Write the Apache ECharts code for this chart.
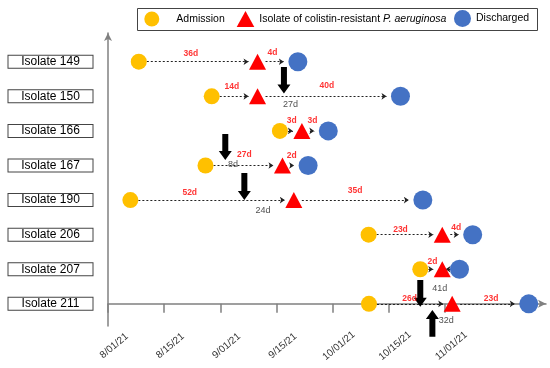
<!DOCTYPE html>
<html>
<head>
<meta charset="utf-8">
<script src="https://cdn.jsdelivr.net/npm/echarts@6/dist/echarts.min.js"></script>
<style>html,body{margin:0;padding:0;background:#fff}#chart{width:550px;height:368px}</style>
</head>
<body>
<div id="chart"></div>
<script>
// Rows, top to bottom
const isolates = ['Isolate 149', 'Isolate 150', 'Isolate 166', 'Isolate 167', 'Isolate 190', 'Isolate 206', 'Isolate 207', 'Isolate 211'];
// Tick labels (drawn evenly spaced along the schematic time axis, 11/01/21 = day 92)
const dateTicks = ['8/01/21', '8/15/21', '9/01/21', '9/15/21', '10/01/21', '10/15/21', '11/01/21'];
const lastTickDay = 92;
// Event positions (days after 8/01/21 on the schematic axis), per isolate
const admission = [8.4, 28.3, 46.9, 26.6, 6.1, 71.1, 85.2, 71.2];
const isolation = [40.8, 40.8, 52.9, 47.6, 50.7, 91.2, 91.2, 93.9];
const discharge = [51.8, 79.8, 60.1, 54.6, 85.9, 99.5, 95.9, 114.8];
// Duration labels (red): [x, y, text]
const durationLabels = [
  [22.6, 7.22, '36d'], [44.9, 7.25, '4d'],
  [33.8, 6.27, '14d'], [59.7, 6.32, '40d'],
  [50.1, 5.31, '3d'], [55.8, 5.31, '3d'],
  [37.2, 4.30, '27d'], [50.1, 4.27, '2d'],
  [22.3, 3.21, '52d'], [67.4, 3.27, '35d'],
  [79.8, 2.15, '23d'], [95.0, 2.21, '4d'],
  [88.5, 1.22, '2d'],
  [82.3, 0.16, '26d'], [104.5, 0.16, '23d']
];
// Black arrows: [x, tail y, tip y]
const bigArrows = [
  [48.0, 6.85, 6.08],
  [32.0, 4.91, 4.16],
  [37.2, 3.78, 3.00],
  [85.2, 0.69, -0.08],
  [88.5, -0.95, -0.18]
];
// Black arrow labels: [x, y, text]
const arrowLabels = [
  [49.8, 5.77, '27d'], [34.1, 4.04, '8d'], [42.3, 2.71, '24d'], [90.5, 0.45, '41d'], [92.3, -0.47, '32d']
];

const nRows = isolates.length;
const rowY = i => nRows - 1 - i;
const tickPos = dateTicks.map((_, i) => i * lastTickDay / (dateTicks.length - 1));

const pxPerDay = 438 / 119.5;
const gapStart = 8 / pxPerDay, gapTri = 9 / pxPerDay, gapBlue = 14 / pxPerDay;
const segs = [];
isolates.forEach((_, i) => {
  const y = rowY(i);
  segs.push({coords: [[admission[i] + gapStart, y], [isolation[i] - gapTri, y]]});
  segs.push({coords: [[isolation[i] + gapStart, y], [discharge[i] - gapBlue, y]]});
});

const FONT = 'Liberation Sans, Arial, sans-serif';
const chart = echarts.init(document.getElementById('chart'), null, {renderer: 'canvas'});
const SER2 = 'Isolate of colistin-resistant P. aeruginosa';

chart.setOption({
  animation: false,
  textStyle: {fontFamily: FONT},
  graphic: [{
    type: 'rect', left: 137, top: 8, z: 0,
    shape: {width: 400, height: 22},
    style: {fill: '#fff', stroke: '#444', lineWidth: 1}
  }],
  legend: [
    {data: ['Admission'], left: 144.3, top: 11.5, padding: 0, itemWidth: 15, itemHeight: 15,
      textStyle: {fontSize: 10.5, color: '#000', fontFamily: FONT, padding: [0, 0, 0, 12]}},
    {data: [SER2], left: 236.7, top: 11, padding: 0, itemWidth: 17.6, itemHeight: 16,
      formatter: () => 'Isolate of colistin-resistant {i|P. aeruginosa}',
      textStyle: {fontSize: 10.5, color: '#000', fontFamily: FONT,
        rich: {i: {fontStyle: 'italic', fontSize: 10.5, color: '#000', fontFamily: FONT}}}},
    {data: ['Discharged'], left: 454, top: 10, padding: 0, itemWidth: 17, itemHeight: 18,
      textStyle: {fontSize: 10.5, color: '#000', fontFamily: FONT}}
  ],
  grid: {left: 108, right: 4, top: 33, bottom: 42},
  xAxis: {
    type: 'value', min: 0, max: 119.5,
    splitLine: {show: false},
    axisLine: {show: true, lineStyle: {color: '#808080', width: 1.5}, symbol: ['none', 'arrow'], symbolSize: [6, 8]},
    axisTick: {show: true, customValues: tickPos, length: 9, lineStyle: {color: '#808080', width: 1.5}},
    axisLabel: {
      customValues: tickPos,
      formatter: v => dateTicks[Math.round(v / (lastTickDay / (dateTicks.length - 1)))],
      rotate: 40, align: 'center', verticalAlign: 'middle', margin: 25, padding: [0, 0, 0, 16],
      fontSize: 10, color: '#333', fontFamily: FONT
    }
  },
  yAxis: {
    type: 'value', min: -0.64, max: 7.83,
    splitLine: {show: false},
    axisLine: {show: true, lineStyle: {color: '#808080', width: 1.5}, symbol: ['none', 'arrow'], symbolSize: [6, 8]},
    axisTick: {show: false},
    axisLabel: {
      customValues: isolates.map((_, i) => rowY(i)),
      formatter: v => isolates[nRows - 1 - Math.round(v)],
      align: 'center', verticalAlign: 'middle', margin: 57.5, width: 84,
      borderColor: '#444', borderWidth: 1, padding: [1, 0, 0, 0], lineHeight: 11,
      fontSize: 12, color: '#000', fontFamily: FONT, backgroundColor: '#fff'
    }
  },
  series: [
    {
      type: 'lines', coordinateSystem: 'cartesian2d', z: 1,
      data: segs, symbol: ['none', 'arrow'], symbolSize: 5,
      lineStyle: {color: '#222', width: 1, type: [2, 2], opacity: 1}
    },
    {
      name: 'Admission', type: 'scatter', z: 3, symbol: 'circle', symbolSize: 16,
      itemStyle: {color: '#FFC000', opacity: 1},
      data: admission.map((x, i) => [x, rowY(i)])
    },
    {
      name: SER2, type: 'scatter', z: 3, symbol: 'triangle', symbolSize: [17, 16],
      itemStyle: {color: '#FF0000', opacity: 1},
      data: isolation.map((x, i) => [x, rowY(i)])
    },
    {
      name: 'Discharged', type: 'scatter', z: 3, symbol: 'circle', symbolSize: 19,
      itemStyle: {color: '#4472C4', opacity: 1},
      data: discharge.map((x, i) => [x, rowY(i)])
    },
    {
      type: 'custom', z: 4, clip: false,
      data: bigArrows,
      renderItem: (params, api) => {
        const x = api.value(0);
        const t = api.coord([x, api.value(1)]);
        const h = api.coord([x, api.value(2)]);
        const s = h[1] > t[1] ? 1 : -1;
        const cx = t[0], sw = 3, hw = 6.5, hl = 9;
        const by = h[1] - s * hl;
        return {
          type: 'polygon',
          shape: {points: [[cx - sw, t[1]], [cx + sw, t[1]], [cx + sw, by], [cx + hw, by], [cx, h[1]], [cx - hw, by], [cx - sw, by]]},
          style: {fill: '#000'}
        };
      }
    },
    {
      type: 'scatter', z: 5, symbolSize: 1, silent: true,
      itemStyle: {color: 'rgba(0,0,0,0)'},
      data: durationLabels.map(d => ({value: [d[0], d[1]], name: d[2]})),
      label: {show: true, position: 'inside', formatter: p => p.name,
        fontSize: 8.5, fontWeight: 'bold', color: '#FF0000', fontFamily: FONT}
    },
    {
      type: 'scatter', z: 5, symbolSize: 1, silent: true,
      itemStyle: {color: 'rgba(0,0,0,0)'},
      data: arrowLabels.map(d => ({value: [d[0], d[1]], name: d[2]})),
      label: {show: true, position: 'inside', formatter: p => p.name,
        fontSize: 9, color: '#222', fontFamily: FONT}
    }
  ]
});
</script>
</body>
</html>
